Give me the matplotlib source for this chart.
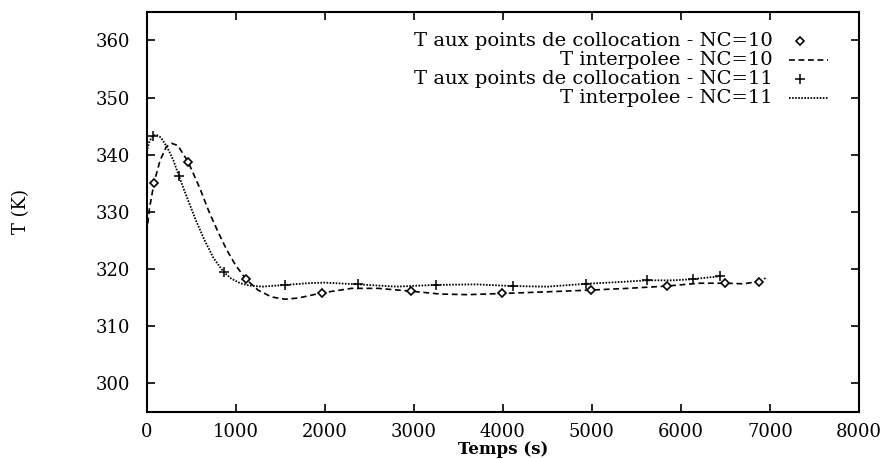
import matplotlib
matplotlib.use("Agg")
import matplotlib.pyplot as plt
from matplotlib.lines import Line2D

plt.rcParams.update({"font.family": "DejaVu Serif", "font.size": 13})

# collocation points, NC=10
t_c10 = [82, 467, 1115, 1965, 2969, 3995, 4988, 5842, 6497, 6878]
T_c10 = [335.1, 338.7, 318.2, 315.8, 316.1, 315.7, 316.3, 317.0, 317.5, 317.8]

# interpolated profile, NC=10
t_i10 = [0, 30, 82, 150, 220, 280, 350, 467, 600, 700, 800, 900, 1000, 1115,
         1250, 1400, 1550, 1700, 1965, 2300, 2600, 2969, 3300, 3600, 3995,
         4500, 4988, 5400, 5842, 6200, 6497, 6700, 6878, 6950]
T_i10 = [326.3, 330.5, 335.1, 339.0, 341.4, 342.0, 341.6, 338.7, 334.0, 330.0,
         326.5, 323.3, 320.6, 318.2, 316.3, 315.1, 314.7, 314.9, 315.8, 316.6,
         316.6, 316.1, 315.6, 315.5, 315.7, 316.0, 316.3, 316.6, 317.0, 317.5,
         317.5, 317.4, 317.8, 318.4]

# collocation points, NC=11
t_c11 = [67, 363, 868, 1557, 2377, 3246, 4118, 4931, 5617, 6130, 6433]
T_c11 = [343.3, 336.2, 319.4, 317.2, 317.3, 317.2, 317.0, 317.4, 318.0, 318.2, 318.7]

# interpolated profile, NC=11
t_i11 = [0, 30, 67, 110, 160, 230, 300, 363, 450, 550, 650, 750, 868, 950,
         1050, 1150, 1300, 1557, 1800, 2000, 2377, 2800, 3246, 3700, 4118,
         4500, 4931, 5300, 5617, 5900, 6130, 6300, 6433]
T_i11 = [340.5, 342.3, 343.3, 343.5, 343.0, 341.3, 339.0, 336.2, 332.6, 328.6,
         325.0, 321.9, 319.4, 318.3, 317.5, 317.1, 316.9, 317.2, 317.5, 317.6,
         317.3, 316.9, 317.2, 317.3, 317.0, 316.9, 317.4, 317.7, 318.0, 318.0,
         318.2, 318.5, 318.7]

labels = ["T aux points de collocation - NC=10", "T interpolee - NC=10",
          "T aux points de collocation - NC=11", "T interpolee - NC=11"]

DASH = (0, (3.5, 2.2))
DOT = (0, (0.9, 0.8))

fig = plt.figure(figsize=(8.86, 4.59), dpi=100)
ax = fig.add_axes([0.1656, 0.103, 0.804, 0.871])

ax.plot(t_i10, T_i10, color="black", lw=1.2, ls=DASH)
ax.plot(t_i11, T_i11, color="black", lw=1.3, ls=DOT)
ax.plot(t_c10, T_c10, ls="none", marker="D", ms=4.5, mfc="white", mec="black", mew=1.2)
ax.plot(t_c11, T_c11, ls="none", marker="+", ms=6.5, mec="black", mew=1.1)

ax.set_xlim(0, 8000)
ax.set_ylim(295, 365)
ax.set_xticks(range(0, 8001, 1000))
ax.set_yticks(range(300, 361, 10))
ax.tick_params(direction="in", length=6, width=1.2, top=True, right=True,
               labelsize=13)
ax.tick_params(axis="y", pad=12)
ax.tick_params(axis="x", pad=8)
for s in ax.spines.values():
    s.set_linewidth(1.5)

ax.set_xlabel("Temps (s)", fontsize=12, fontweight="bold", labelpad=0)
ax.set_ylabel("T (K)", fontsize=13, labelpad=47)

# gnuplot-style key: right-aligned text, sample on the right
rows = [0.927, 0.880, 0.832, 0.785]
x_txt, x0, x1 = 0.879, 0.902, 0.956
styles = [dict(ls="none", marker="D", ms=4.5, mfc="white", mec="black", mew=1.2),
          dict(ls=DASH, lw=1.2, color="black"),
          dict(ls="none", marker="+", ms=6.5, mec="black", mew=1.1),
          dict(ls=DOT, lw=1.3, color="black")]
for y, lab, st in zip(rows, labels, styles):
    ax.text(x_txt, y, lab, transform=ax.transAxes, ha="right", va="center",
            fontsize=14)
    if st.get("marker"):
        ax.add_line(Line2D([(x0 + x1) / 2 - 0.012], [y], transform=ax.transAxes, **st))
    else:
        ax.add_line(Line2D([x0, x1], [y, y], transform=ax.transAxes, **st))

fig.savefig("out.png", dpi=100)
